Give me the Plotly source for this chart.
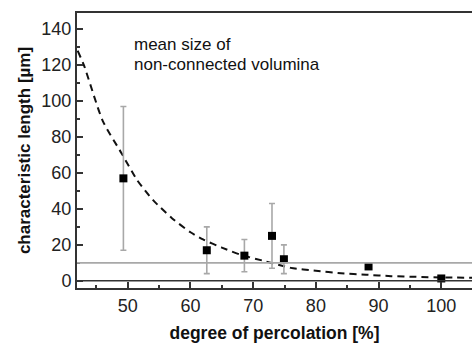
import plotly.graph_objects as go

# measured points
perc = [49.3, 62.6, 68.6, 73.0, 74.9, 88.4, 100.0]
length = [57, 17, 14, 25, 12, 8, 1.3]
err_plus = [40, 13, 9, 18, 8, 0, 0]
err_minus = [40, 13, 9, 18, 8, 0, 0]

# dashed fit curve
fit_x = [42, 43, 46, 49, 51.5, 54, 57, 60, 62, 65, 68, 72, 76, 80, 84, 88, 92, 96, 100, 105]
fit_y = [128, 120, 89, 71, 56, 45, 35, 27, 23, 18.5, 14.5, 10.8, 7.2, 5.6, 4.2, 3.4, 2.6, 2.2, 1.9, 1.7]

x_ticks = [50, 60, 70, 80, 90, 100]
y_ticks = [0, 20, 40, 60, 80, 100, 120, 140]

annotation_lines = ["mean size of", "non-connected volumina"]

FONT = "Liberation Sans, Arial, sans-serif"

fig = go.Figure()

fig.add_trace(go.Scatter(
    x=fit_x, y=fit_y, mode="lines",
    line=dict(color="#111", width=2, dash="7px,5px", shape="spline", smoothing=0.6),
    hoverinfo="skip", showlegend=False))

fig.add_trace(go.Scatter(
    x=perc, y=length, mode="markers",
    marker=dict(symbol="square", size=8, color="black"),
    error_y=dict(type="data", array=err_plus, arrayminus=err_minus,
                 color="#a8a8a8", thickness=1.6, width=3),
    showlegend=False))

fig.add_hline(y=0, line=dict(color="#333", width=1.6))
fig.add_hline(y=10, line=dict(color="#a8a8a8", width=1.6))

for i, line in enumerate(annotation_lines):
    fig.add_annotation(
        x=0.138, y=0.885 - i * 0.073, xref="paper", yref="paper",
        text=line, showarrow=False,
        xanchor="left", yanchor="middle", align="left",
        font=dict(family=FONT, size=17, color="#111"))

fig.update_xaxes(
    range=[41.9, 104.9], tickvals=x_ticks, ticks="inside", ticklen=6, tickwidth=1.5,
    tickcolor="#333", showline=True, linecolor="#333", linewidth=2, mirror=True,
    showgrid=False, zeroline=False,
    minor=dict(tickvals=[45, 55, 65, 75, 85, 95], ticks="inside", ticklen=3, tickcolor="#333"),
    tickfont=dict(family=FONT, size=18, color="#222"),
    title=dict(text="<b>degree of percolation [%]</b>", font=dict(family=FONT, size=17.5, color="#111"), standoff=12))

fig.update_yaxes(
    range=[-4, 149], tickvals=y_ticks, ticks="inside", ticklen=6, tickwidth=1.5,
    tickcolor="#333", showline=True, linecolor="#333", linewidth=2, mirror=False,
    showgrid=False, zeroline=False,
    minor=dict(tickvals=[10, 30, 50, 70, 90, 110, 130], ticks="inside", ticklen=3, tickcolor="#333"),
    tickfont=dict(family=FONT, size=18, color="#222"),
    title=dict(text="<b>characteristic length [µm]</b>", font=dict(family=FONT, size=17, color="#111"), standoff=6))

fig.update_layout(
    width=472, height=345,
    margin=dict(l=77, r=0, t=13, b=57),
    paper_bgcolor="white", plot_bgcolor="white",
    showlegend=False)

fig.write_html("out.html")
